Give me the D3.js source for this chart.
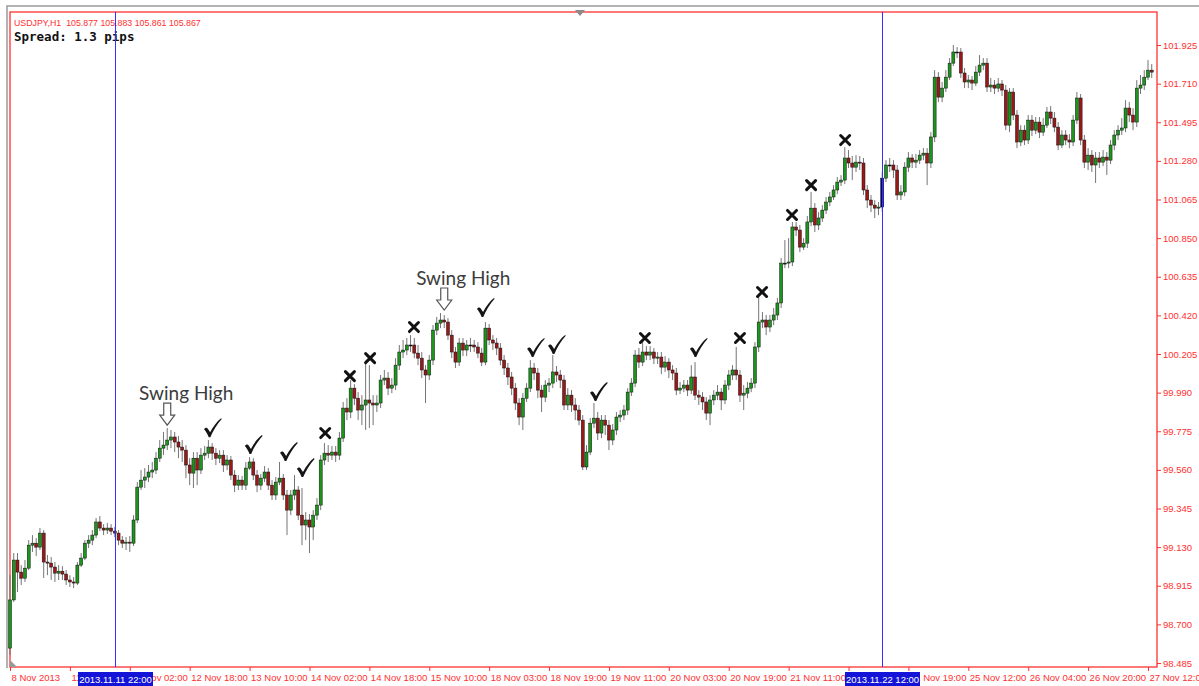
<!DOCTYPE html>
<html>
<head>
<meta charset="utf-8">
<script src="https://cdn.jsdelivr.net/npm/d3@7"></script>
<style>
  html, body { margin: 0; padding: 0; background: #fff; }
  svg { display: block; }
  text { white-space: pre; }
</style>
</head>
<body>
<svg id="chart"></svg>
<script>
// USDJPY H1 bars, 8 Nov 18:00 .. 27 Nov 2013
const opens = [
  98.568, 98.836, 99.058, 98.991, 98.957, 99.013, 99.141, 99.152, 99.130, 99.208,
  99.047, 99.041, 99.019, 98.985, 98.996, 98.980, 98.947, 98.936, 98.930, 99.030,
  99.069, 99.152, 99.169, 99.197, 99.270, 99.236, 99.225, 99.236, 99.219, 99.208,
  99.169, 99.152, 99.158, 99.152, 99.281, 99.464, 99.503, 99.520, 99.548, 99.559,
  99.625, 99.681, 99.698, 99.726, 99.743, 99.715, 99.687, 99.670, 99.587, 99.542,
  99.625, 99.559, 99.642, 99.653, 99.687, 99.653, 99.625, 99.642, 99.587, 99.615,
  99.531, 99.475, 99.503, 99.475, 99.570, 99.604, 99.531, 99.475, 99.514, 99.548,
  99.475, 99.420, 99.492, 99.514, 99.420, 99.336, 99.420, 99.448, 99.308, 99.253,
  99.281, 99.242, 99.308, 99.364, 99.615, 99.653, 99.642, 99.659, 99.642, 99.737,
  99.904, 99.882, 100.015, 99.959, 99.893, 99.921, 99.949, 99.932, 99.921, 99.932,
  100.060, 100.071, 100.015, 100.032, 100.143, 100.216, 100.227, 100.255, 100.255, 100.210,
  100.182, 100.116, 100.088, 100.171, 100.338, 100.377, 100.394, 100.383, 100.310, 100.216,
  100.160, 100.266, 100.227, 100.255, 100.255, 100.244, 100.210, 100.160, 100.349, 100.283,
  100.266, 100.238, 100.171, 100.127, 100.077, 100.015, 99.932, 99.854, 99.959, 100.015,
  100.127, 100.099, 100.004, 99.965, 100.032, 100.043, 100.105, 100.088, 100.060, 99.921,
  99.976, 99.921, 99.893, 99.837, 99.576, 99.659, 99.820, 99.848, 99.765, 99.837,
  99.809, 99.726, 99.782, 99.854, 99.865, 99.893, 99.993, 100.043, 100.199, 100.160,
  100.216, 100.199, 100.216, 100.182, 100.188, 100.132, 100.160, 100.116, 100.099, 100.004,
  100.015, 100.032, 100.004, 100.077, 99.976, 99.965, 99.938, 99.876, 99.949, 99.976,
  99.993, 99.949, 100.032, 100.088, 100.116, 100.088, 99.976, 99.987, 100.015, 100.043,
  100.244, 100.383, 100.394, 100.355, 100.394, 100.422, 100.489, 100.711, 100.711, 100.717,
  100.912, 100.895, 100.800, 100.822, 100.940, 101.017, 100.923, 100.962, 101.006, 101.051,
  101.079, 101.118, 101.162, 101.173, 101.296, 101.268, 101.245, 101.273, 101.268, 101.118,
  101.062, 101.034, 101.017, 101.023, 101.184, 101.257, 101.257, 101.229, 101.090, 101.107,
  101.245, 101.296, 101.273, 101.284, 101.312, 101.323, 101.268, 101.413, 101.746, 101.635,
  101.685, 101.746, 101.824, 101.886, 101.886, 101.769, 101.719, 101.730, 101.713, 101.774,
  101.813, 101.824, 101.691, 101.702, 101.685, 101.708, 101.674, 101.479, 101.663, 101.535,
  101.385, 101.451, 101.396, 101.507, 101.451, 101.496, 101.440, 101.479, 101.552, 101.518,
  101.468, 101.368, 101.424, 101.396, 101.385, 101.507, 101.630, 101.396, 101.273, 101.312,
  101.257, 101.296, 101.273, 101.301, 101.284, 101.368, 101.424, 101.451, 101.463, 101.574,
  101.535, 101.496, 101.685, 101.702, 101.746, 101.785
];
const highs = [
  98.974, 99.097, 99.097, 99.030, 99.058, 99.169, 99.197, 99.180, 99.236, 99.225,
  99.086, 99.075, 99.047, 99.030, 99.024, 99.002, 98.974, 98.963, 99.047, 99.097,
  99.169, 99.197, 99.225, 99.292, 99.303, 99.258, 99.264, 99.258, 99.242, 99.225,
  99.192, 99.186, 99.192, 99.308, 99.492, 99.559, 99.570, 99.587, 99.604, 99.659,
  99.726, 99.771, 99.793, 99.782, 99.771, 99.748, 99.726, 99.698, 99.625, 99.659,
  99.659, 99.681, 99.693, 99.726, 99.709, 99.681, 99.670, 99.670, 99.642, 99.637,
  99.559, 99.531, 99.526, 99.604, 99.631, 99.625, 99.559, 99.537, 99.581, 99.570,
  99.503, 99.520, 99.604, 99.537, 99.448, 99.448, 99.531, 99.470, 99.459, 99.325,
  99.314, 99.336, 99.403, 99.642, 99.709, 99.698, 99.693, 99.693, 99.771, 99.938,
  99.959, 100.060, 100.037, 99.993, 99.976, 100.160, 100.143, 99.976, 99.976, 100.088,
  100.116, 100.105, 100.071, 100.182, 100.255, 100.283, 100.294, 100.310, 100.294, 100.255,
  100.216, 100.143, 100.199, 100.366, 100.411, 100.433, 100.422, 100.405, 100.338, 100.244,
  100.294, 100.294, 100.283, 100.294, 100.283, 100.271, 100.238, 100.383, 100.372, 100.310,
  100.294, 100.266, 100.199, 100.155, 100.105, 100.043, 99.959, 99.987, 100.043, 100.171,
  100.155, 100.127, 100.032, 100.060, 100.071, 100.199, 100.138, 100.116, 100.088, 100.015,
  100.004, 99.959, 99.921, 99.865, 99.698, 99.848, 99.932, 99.882, 99.865, 99.865,
  99.837, 99.815, 99.882, 99.893, 99.921, 100.015, 100.071, 100.227, 100.238, 100.283,
  100.249, 100.249, 100.238, 100.216, 100.216, 100.193, 100.182, 100.143, 100.127, 100.049,
  100.060, 100.060, 100.143, 100.160, 100.004, 99.993, 99.965, 99.976, 100.004, 100.032,
  100.015, 100.060, 100.116, 100.143, 100.244, 100.116, 100.032, 100.049, 100.071, 100.271,
  100.522, 100.439, 100.422, 100.422, 100.461, 100.517, 100.739, 100.839, 100.850, 100.940,
  100.940, 100.923, 100.850, 100.973, 101.107, 101.045, 100.995, 101.034, 101.079, 101.107,
  101.145, 101.190, 101.201, 101.357, 101.340, 101.307, 101.312, 101.307, 101.296, 101.145,
  101.090, 101.062, 101.051, 101.218, 101.284, 101.296, 101.284, 101.257, 101.145, 101.273,
  101.329, 101.318, 101.318, 101.340, 101.351, 101.351, 101.440, 101.785, 101.774, 101.719,
  101.785, 101.852, 101.925, 101.913, 101.908, 101.797, 101.758, 101.752, 101.808, 101.869,
  101.852, 101.852, 101.741, 101.730, 101.741, 101.730, 101.702, 101.685, 101.685, 101.563,
  101.479, 101.479, 101.535, 101.535, 101.524, 101.524, 101.518, 101.580, 101.585, 101.552,
  101.496, 101.451, 101.451, 101.429, 101.535, 101.663, 101.652, 101.424, 101.351, 101.340,
  101.329, 101.329, 101.340, 101.329, 101.396, 101.451, 101.479, 101.518, 101.618, 101.607,
  101.574, 101.730, 101.758, 101.785, 101.841, 101.819
];
const lows = [
  98.529, 98.825, 98.880, 98.919, 98.936, 99.002, 99.103, 99.080, 99.114, 98.958,
  98.974, 98.947, 98.936, 98.947, 98.947, 98.919, 98.908, 98.902, 98.919, 99.019,
  99.058, 99.125, 99.141, 99.180, 99.219, 99.197, 99.203, 99.197, 99.186, 99.141,
  99.125, 99.114, 99.103, 99.136, 99.264, 99.448, 99.459, 99.492, 99.514, 99.537,
  99.604, 99.642, 99.670, 99.681, 99.659, 99.625, 99.604, 99.514, 99.475, 99.459,
  99.475, 99.537, 99.615, 99.625, 99.615, 99.587, 99.598, 99.548, 99.559, 99.503,
  99.436, 99.448, 99.448, 99.448, 99.559, 99.503, 99.436, 99.448, 99.492, 99.448,
  99.392, 99.392, 99.475, 99.392, 99.197, 99.308, 99.392, 99.281, 99.141, 99.169,
  99.097, 99.169, 99.281, 99.336, 99.587, 99.604, 99.615, 99.604, 99.615, 99.715,
  99.837, 99.848, 99.921, 99.837, 99.809, 99.782, 99.793, 99.809, 99.882, 99.904,
  100.032, 99.976, 99.987, 100.004, 100.116, 100.182, 100.199, 100.216, 100.182, 100.143,
  100.071, 99.932, 100.060, 100.143, 100.310, 100.349, 100.349, 100.283, 100.182, 100.127,
  100.138, 100.193, 100.193, 100.216, 100.216, 100.182, 100.138, 100.143, 100.255, 100.227,
  100.199, 100.143, 100.088, 100.032, 99.976, 99.893, 99.809, 99.782, 99.938, 99.993,
  100.060, 99.959, 99.882, 99.938, 99.993, 100.015, 100.049, 100.015, 99.893, 99.893,
  99.882, 99.837, 99.809, 99.559, 99.559, 99.642, 99.793, 99.726, 99.737, 99.754,
  99.670, 99.698, 99.754, 99.826, 99.837, 99.865, 99.971, 100.021, 100.127, 100.138,
  100.171, 100.171, 100.149, 100.149, 100.093, 100.105, 100.071, 100.060, 99.976, 99.982,
  99.993, 99.971, 99.982, 99.949, 99.921, 99.893, 99.837, 99.809, 99.921, 99.949,
  99.893, 99.926, 100.004, 100.060, 100.060, 99.938, 99.893, 99.959, 99.993, 100.015,
  100.216, 100.349, 100.310, 100.327, 100.366, 100.394, 100.461, 100.683, 100.683, 100.694,
  100.862, 100.772, 100.784, 100.795, 100.917, 100.884, 100.895, 100.940, 100.984, 101.028,
  101.062, 101.095, 101.140, 101.151, 101.240, 101.173, 101.218, 101.229, 101.090, 101.017,
  100.995, 100.962, 100.978, 100.995, 101.162, 101.218, 101.184, 101.062, 101.062, 101.084,
  101.218, 101.240, 101.240, 101.262, 101.284, 101.145, 101.240, 101.385, 101.607, 101.607,
  101.663, 101.730, 101.808, 101.852, 101.741, 101.685, 101.685, 101.674, 101.696, 101.752,
  101.785, 101.663, 101.663, 101.652, 101.663, 101.641, 101.451, 101.440, 101.507, 101.351,
  101.362, 101.368, 101.374, 101.418, 101.429, 101.407, 101.418, 101.463, 101.485, 101.440,
  101.340, 101.351, 101.368, 101.351, 101.362, 101.485, 101.368, 101.240, 101.229, 101.218,
  101.157, 101.240, 101.251, 101.201, 101.262, 101.340, 101.396, 101.424, 101.440, 101.496,
  101.451, 101.468, 101.652, 101.674, 101.730, 101.741
];
const closes = [
  98.836, 99.058, 98.991, 98.957, 99.013, 99.141, 99.152, 99.130, 99.208, 99.047,
  99.041, 99.019, 98.985, 98.996, 98.980, 98.947, 98.936, 98.930, 99.030, 99.069,
  99.152, 99.169, 99.197, 99.270, 99.236, 99.225, 99.236, 99.219, 99.208, 99.169,
  99.152, 99.158, 99.152, 99.281, 99.464, 99.503, 99.520, 99.548, 99.559, 99.625,
  99.681, 99.698, 99.726, 99.743, 99.715, 99.687, 99.670, 99.587, 99.542, 99.625,
  99.559, 99.642, 99.653, 99.687, 99.653, 99.625, 99.642, 99.587, 99.615, 99.531,
  99.475, 99.503, 99.475, 99.570, 99.604, 99.531, 99.475, 99.514, 99.548, 99.475,
  99.420, 99.492, 99.514, 99.420, 99.336, 99.420, 99.448, 99.308, 99.253, 99.281,
  99.242, 99.308, 99.364, 99.615, 99.653, 99.642, 99.659, 99.642, 99.737, 99.904,
  99.882, 100.015, 99.959, 99.893, 99.921, 99.949, 99.932, 99.921, 99.932, 100.060,
  100.071, 100.015, 100.032, 100.143, 100.216, 100.227, 100.255, 100.255, 100.210, 100.182,
  100.116, 100.088, 100.171, 100.338, 100.377, 100.394, 100.383, 100.310, 100.216, 100.160,
  100.266, 100.227, 100.255, 100.255, 100.244, 100.210, 100.160, 100.349, 100.283, 100.266,
  100.238, 100.171, 100.127, 100.077, 100.015, 99.932, 99.854, 99.959, 100.015, 100.127,
  100.099, 100.004, 99.965, 100.032, 100.043, 100.105, 100.088, 100.060, 99.921, 99.976,
  99.921, 99.893, 99.837, 99.576, 99.659, 99.820, 99.848, 99.765, 99.837, 99.809,
  99.726, 99.782, 99.854, 99.865, 99.893, 99.993, 100.043, 100.199, 100.160, 100.216,
  100.199, 100.216, 100.182, 100.188, 100.132, 100.160, 100.116, 100.099, 100.004, 100.015,
  100.032, 100.004, 100.077, 99.976, 99.965, 99.938, 99.876, 99.949, 99.976, 99.993,
  99.949, 100.032, 100.088, 100.116, 100.088, 99.976, 99.987, 100.015, 100.043, 100.244,
  100.383, 100.394, 100.355, 100.394, 100.422, 100.489, 100.711, 100.711, 100.717, 100.912,
  100.895, 100.800, 100.822, 100.940, 101.017, 100.923, 100.962, 101.006, 101.051, 101.079,
  101.118, 101.162, 101.173, 101.296, 101.268, 101.245, 101.273, 101.268, 101.118, 101.062,
  101.034, 101.017, 101.023, 101.184, 101.257, 101.257, 101.229, 101.090, 101.107, 101.245,
  101.296, 101.273, 101.284, 101.312, 101.323, 101.268, 101.413, 101.746, 101.635, 101.685,
  101.746, 101.824, 101.886, 101.886, 101.769, 101.719, 101.730, 101.713, 101.774, 101.813,
  101.824, 101.691, 101.702, 101.685, 101.708, 101.674, 101.479, 101.663, 101.535, 101.385,
  101.451, 101.396, 101.507, 101.451, 101.496, 101.440, 101.479, 101.552, 101.518, 101.468,
  101.368, 101.424, 101.396, 101.385, 101.507, 101.630, 101.396, 101.273, 101.312, 101.257,
  101.296, 101.273, 101.301, 101.284, 101.368, 101.424, 101.451, 101.463, 101.574, 101.535,
  101.496, 101.685, 101.702, 101.746, 101.785, 101.774
];

// price scale ticks on the right
const priceTicks = [98.485, 98.700, 98.915, 99.130, 99.345, 99.560, 99.775, 99.990, 100.205,
  100.420, 100.635, 100.850, 101.065, 101.280, 101.495, 101.710, 101.925];

// time scale: a label every 16 bars
const timeTickBars = [0, 16, 32, 48, 64, 80, 96, 112, 128, 144, 160, 176, 192, 208, 224, 240, 256, 272, 288, 304];
const timeLabels = ["8 Nov 2013", "11 Nov 10:00", "12 Nov 02:00", "12 Nov 18:00", "13 Nov 10:00",
  "14 Nov 02:00", "14 Nov 18:00", "15 Nov 10:00", "18 Nov 03:00", "18 Nov 19:00", "19 Nov 11:00",
  "20 Nov 03:00", "20 Nov 19:00", "21 Nov 11:00", "22 Nov 03:00", "22 Nov 19:00", "25 Nov 12:00",
  "26 Nov 04:00", "26 Nov 20:00", "27 Nov 12:00"];

// vertical lines and their date boxes
const vLineBars = [28, 233];
const vLineLabels = ["2013.11.11 22:00", "2013.11.22 12:00"];
const highlightBar = 233;

// annotations (bar position, price level)
const checkBars = [54.0, 64.9, 74.3, 78.8, 126.9, 140.3, 145.9, 157.1, 183.8];
const checkPrices = [99.792, 99.698, 99.659, 99.570, 100.461, 100.238, 100.255, 99.993, 100.238];
const crossBars = [84.2, 90.8, 96.2, 107.9, 169.6, 195.0, 200.9, 208.9, 214.0, 223.1];
const crossPrices = [99.765, 100.082, 100.182, 100.355, 100.294, 100.294, 100.550, 100.979, 101.145, 101.396];
const swingBars = [42, 116];
const swingTips = [99.809, 100.450];

const W = 1199, H = 686;
const plot = { left: 10, right: 1157, top: 12, bottom: 667 };
const red = "#ff3030";
const blue = "#3030ff";

const svg = d3.select("#chart").attr("width", W).attr("height", H);

const x = d3.scaleLinear().domain([0, 304]).range([10, 1148]);
const y = d3.scaleLinear().domain([98.485, 101.925]).range([663, 45]);

// outer window frame
svg.append("path")
  .attr("d", "M7,668 L7,6 L1199,6")
  .attr("fill", "none")
  .attr("stroke", "#9a9a9a")
  .attr("stroke-width", 1.5);

// chart frame
svg.append("rect")
  .attr("x", plot.left)
  .attr("y", plot.top)
  .attr("width", plot.right - plot.left)
  .attr("height", plot.bottom - plot.top)
  .attr("fill", "#fff")
  .attr("stroke", red)
  .attr("stroke-width", 1.3);

// header
svg.append("text")
  .attr("x", 14).attr("y", 26)
  .attr("font-family", "Liberation Sans, Arial, sans-serif")
  .attr("font-size", 8.8)
  .attr("fill", red)
  .text("USDJPY,H1  105.877 105.883 105.861 105.867");

svg.append("text")
  .attr("x", 14).attr("y", 41)
  .attr("font-family", "DejaVu Sans Mono, monospace")
  .attr("font-weight", "bold")
  .attr("font-size", 12.5)
  .attr("fill", "#111")
  .text("Spread: 1.3 pips");

// candles
const bars = closes.map((c, i) => ({ i, o: opens[i], h: highs[i], l: lows[i], c }));

const candle = svg.append("g").attr("class", "candles")
  .selectAll("g")
  .data(bars)
  .join("g");

candle.append("line")
  .attr("x1", (d) => x(d.i))
  .attr("x2", (d) => x(d.i))
  .attr("y1", (d) => y(d.h))
  .attr("y2", (d) => y(d.l))
  .attr("stroke", "#757575")
  .attr("stroke-width", 1);

candle.append("rect")
  .attr("x", (d) => x(d.i) - 1.5)
  .attr("width", 3)
  .attr("y", (d) => y(Math.max(d.o, d.c)))
  .attr("height", (d) => Math.max(1, Math.abs(y(d.o) - y(d.c))))
  .attr("fill", (d) => {
    if (d.i === highlightBar) return "#000090";
    if (d.c === d.o) return "#111";
    return d.c > d.o ? "#1c951c" : "#9a1818";
  })
  .attr("stroke", "#111")
  .attr("stroke-width", 0.5);

// vertical lines
svg.append("g")
  .selectAll("line")
  .data(vLineBars)
  .join("line")
  .attr("x1", (d) => Math.round(x(d)) + 0.5)
  .attr("x2", (d) => Math.round(x(d)) + 0.5)
  .attr("y1", plot.top)
  .attr("y2", plot.bottom)
  .attr("stroke", blue)
  .attr("stroke-width", 1);

// right price axis
const yAxis = svg.append("g")
  .attr("transform", "translate(" + plot.right + ",0)")
  .call(d3.axisRight(y).tickValues(priceTicks).tickFormat(d3.format(".3f")).tickSize(4).tickPadding(2));
yAxis.select(".domain").remove();
yAxis.selectAll("line").attr("stroke", red);
yAxis.selectAll("text")
  .attr("fill", red)
  .attr("font-family", "Liberation Sans, Arial, sans-serif")
  .attr("font-size", 9.5);

// bottom time axis
const xAxis = svg.append("g")
  .attr("transform", "translate(0," + plot.bottom + ")")
  .call(d3.axisBottom(x).tickValues(timeTickBars).tickFormat((d, i) => timeLabels[i]).tickSize(4));
xAxis.select(".domain").remove();
xAxis.selectAll("line").attr("stroke", red);
xAxis.selectAll("text")
  .attr("fill", red)
  .attr("text-anchor", "start")
  .attr("dx", 1)
  .attr("y", 7)
  .attr("font-family", "Liberation Sans, Arial, sans-serif")
  .attr("font-size", 9.5);

// date boxes under the vertical lines
const box = svg.append("g")
  .selectAll("g")
  .data(vLineBars)
  .join("g")
  .attr("transform", (d) => "translate(" + (Math.round(x(d)) + 0.5) + "," + (plot.bottom + 5) + ")");
box.append("rect")
  .attr("x", -37.5).attr("y", 0)
  .attr("width", 75).attr("height", 14)
  .attr("fill", "#1414d8");
box.append("text")
  .attr("x", 0).attr("y", 10.5)
  .attr("text-anchor", "middle")
  .attr("fill", "#fff")
  .attr("font-family", "Liberation Sans, Arial, sans-serif")
  .attr("font-size", 9.5)
  .text((d, i) => vLineLabels[i]);

// small markers
svg.append("path").attr("d", "M575,10 L585,10 L580,16 Z").attr("fill", "#8a8a8a");
svg.append("path").attr("d", "M10,660 L10,667 L17,667 Z").attr("fill", "#9a9a9a");

// check marks
const checkPath = "M-8,1 C-7,-1 -5,-1 -4,1 L-2,4 C1,-2 5,-7 9,-10 L9.6,-9.2 C5,-4 1,2 -1.8,9 L-3.4,9 C-5,5 -6.5,3 -8,1 Z";
svg.append("g")
  .selectAll("path")
  .data(checkBars)
  .join("path")
  .attr("transform", (d, i) => "translate(" + x(d) + "," + y(checkPrices[i]) + ")")
  .attr("d", checkPath)
  .attr("fill", "#151515");

// crosses
const cross = svg.append("g")
  .selectAll("g")
  .data(crossBars)
  .join("g")
  .attr("transform", (d, i) => "translate(" + x(d) + "," + y(crossPrices[i]) + ")");
cross.append("path")
  .attr("d", "M-4.5,-4.5 L4.5,4.5 M4.5,-4.5 L-4.5,4.5")
  .attr("stroke", "#111")
  .attr("stroke-width", 3)
  .attr("stroke-linecap", "round");

// swing high arrows and labels
const swing = svg.append("g")
  .selectAll("g")
  .data(swingBars)
  .join("g")
  .attr("transform", (d, i) => "translate(" + x(d) + "," + y(swingTips[i]) + ")");
swing.append("path")
  .attr("d", "M-3.5,-22 L3.5,-22 L3.5,-10 L7.5,-10 L0,0 L-7.5,-10 L-3.5,-10 Z")
  .attr("fill", "#fff")
  .attr("stroke", "#555")
  .attr("stroke-width", 1.2);
swing.append("text")
  .attr("x", 19).attr("y", -25)
  .attr("text-anchor", "middle")
  .attr("font-family", "Lato, Open Sans, sans-serif")
  .attr("font-size", 19)
  .attr("fill", "#3c3c3c")
  .text("Swing High");
</script>
</body>
</html>
